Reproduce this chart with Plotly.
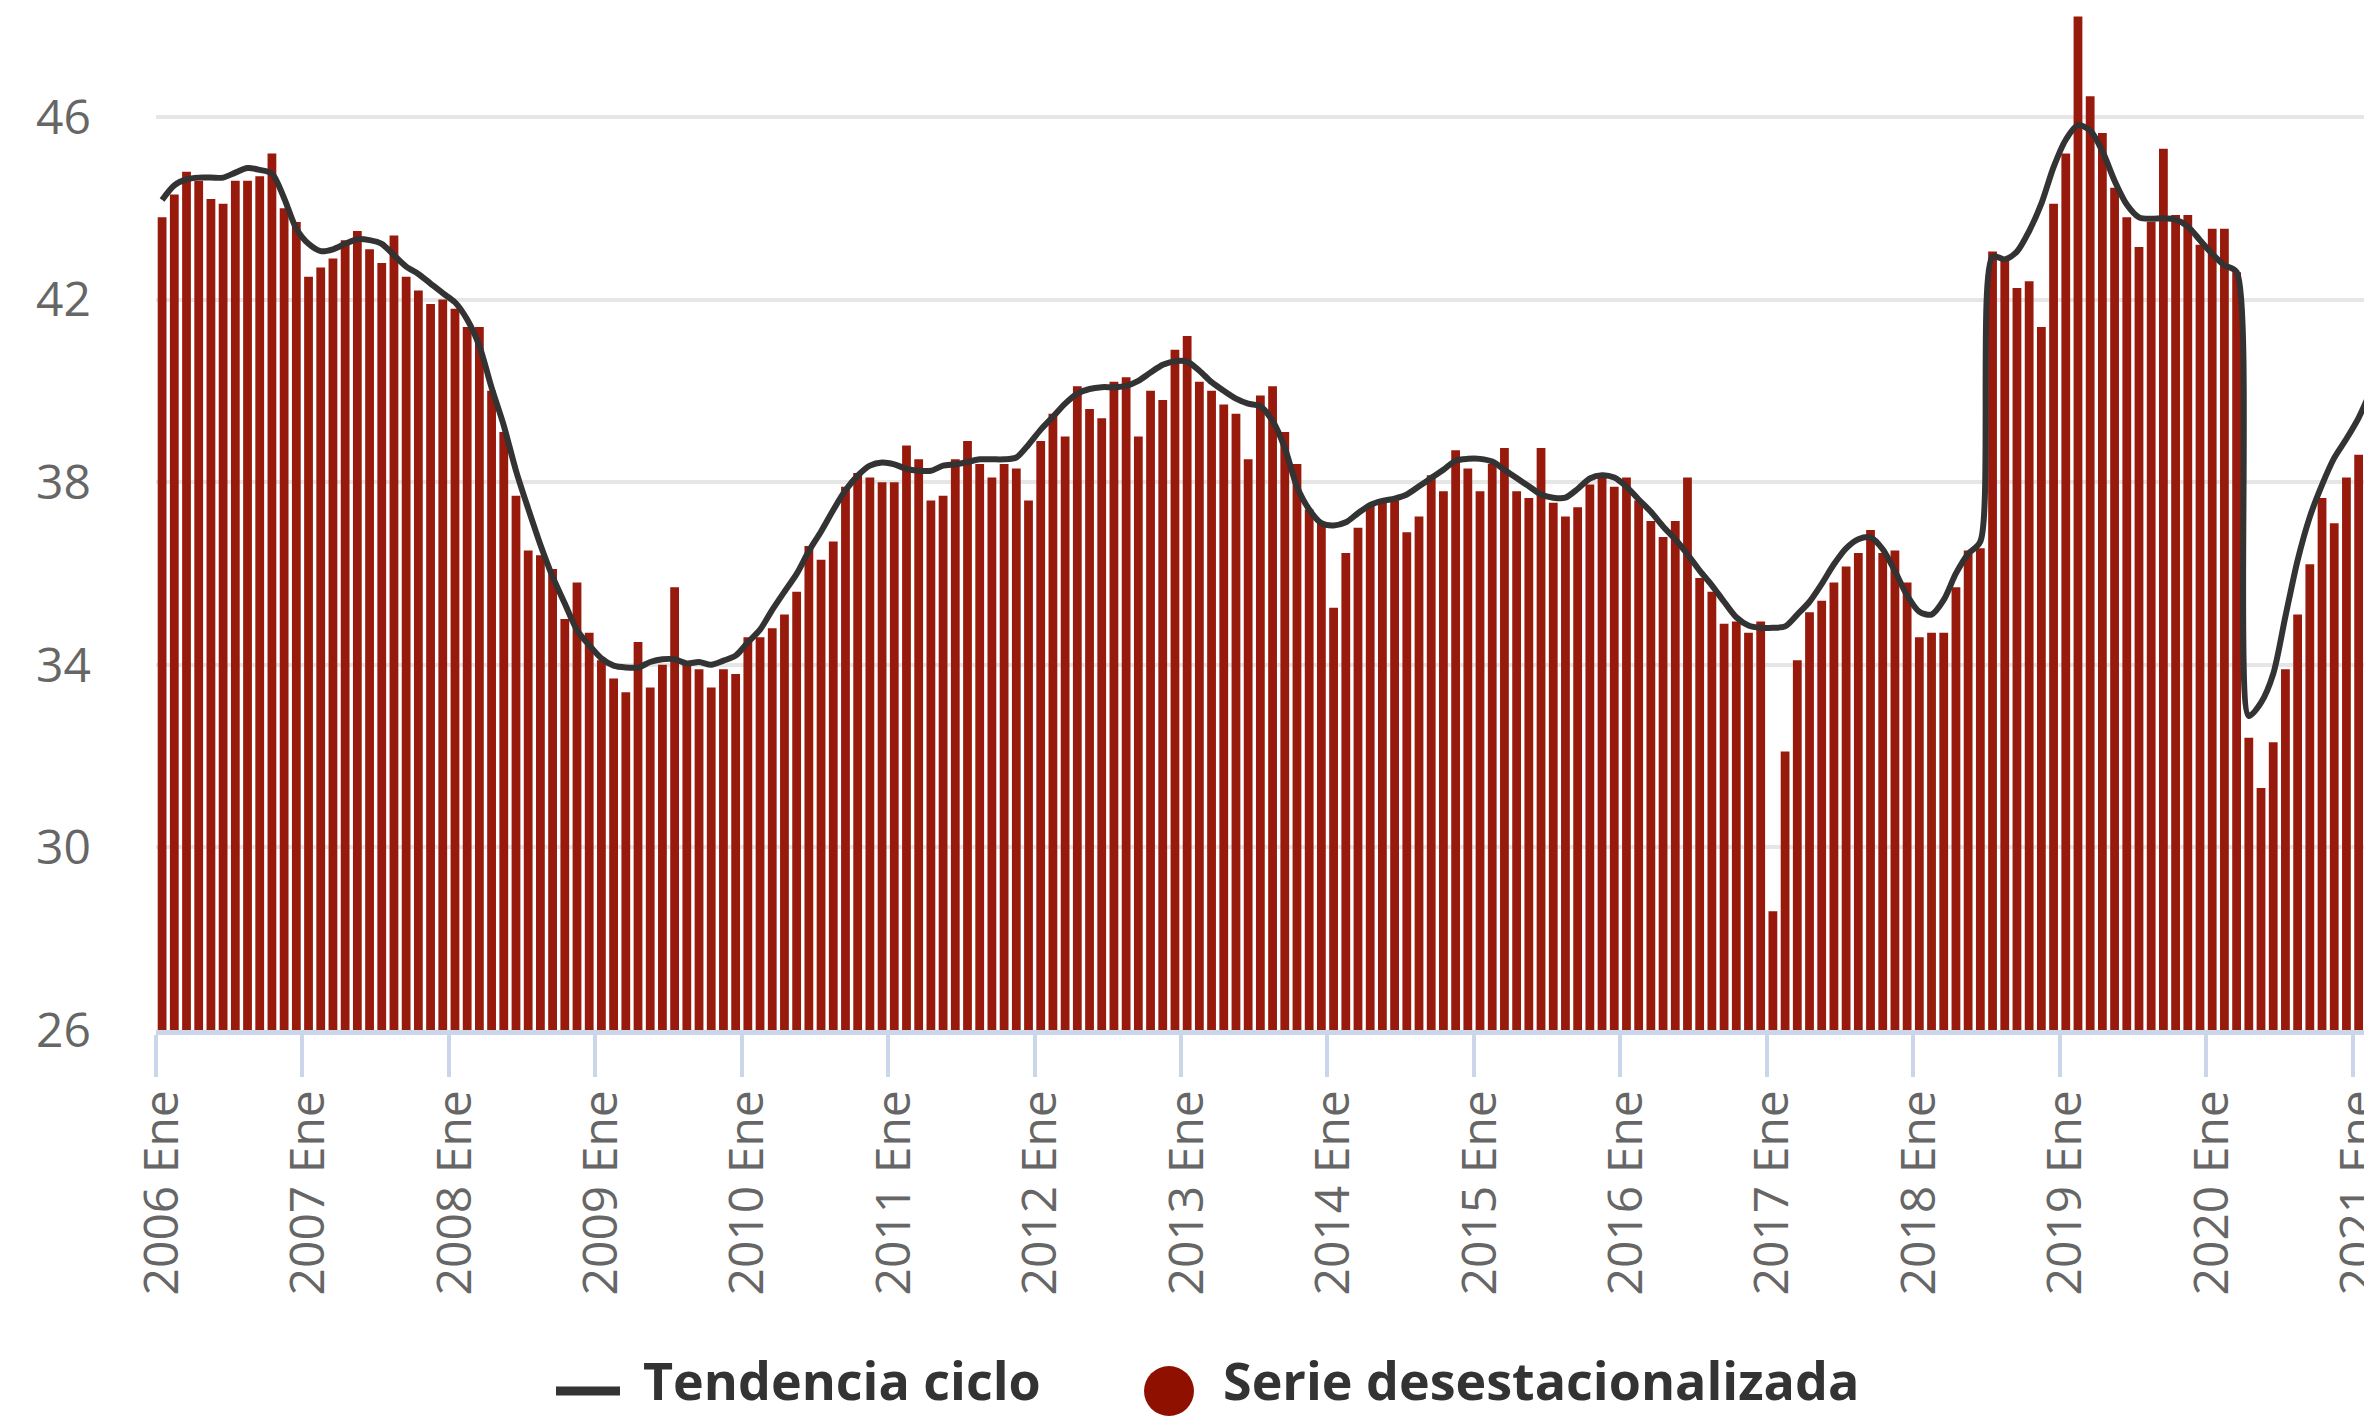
import plotly.graph_objects as go

# ---------------- data ----------------
years = list(range(2006, 2022))
months = ["Ene", "Feb", "Mar", "Abr", "May", "Jun", "Jul", "Ago", "Sep", "Oct", "Nov", "Dic"]

serie_desestacionalizada = [
    # 2006
    43.8, 44.3, 44.8, 44.6, 44.2, 44.1, 44.6, 44.6, 44.7, 45.2, 44.0, 43.7,
    # 2007
    42.5, 42.7, 42.9, 43.3, 43.5, 43.1, 42.8, 43.4, 42.5, 42.2, 41.9, 42.0,
    # 2008
    41.8, 41.4, 41.4, 40.0, 39.1, 37.7, 36.5, 36.4, 36.1, 35.0, 35.8, 34.7,
    # 2009
    34.1, 33.7, 33.4, 34.5, 33.5, 34.0, 35.7, 34.0, 33.9, 33.5, 33.9, 33.8,
    # 2010
    34.6, 34.6, 34.8, 35.1, 35.6, 36.6, 36.3, 36.7, 37.9, 38.2, 38.1, 38.0,
    # 2011
    38.0, 38.8, 38.5, 37.6, 37.7, 38.5, 38.9, 38.4, 38.1, 38.4, 38.3, 37.6,
    # 2012
    38.9, 39.5, 39.0, 40.1, 39.6, 39.4, 40.2, 40.3, 39.0, 40.0, 39.8, 40.9,
    # 2013
    41.2, 40.2, 40.0, 39.7, 39.5, 38.5, 39.9, 40.1, 39.1, 38.4, 37.4, 37.1,
    # 2014
    35.25, 36.45, 37.0, 37.5, 37.6, 37.6, 36.9, 37.25, 38.15, 37.8, 38.7, 38.3,
    # 2015
    37.8, 38.4, 38.75, 37.8, 37.65, 38.75, 37.55, 37.25, 37.45, 37.95, 38.1, 37.9,
    # 2016
    38.1, 37.6, 37.15, 36.8, 37.15, 38.1, 35.9, 35.6, 34.9, 34.95, 34.7, 34.95,
    # 2017
    28.6, 32.1, 34.1, 35.15, 35.4, 35.8, 36.15, 36.45, 36.95, 36.45, 36.5, 35.8,
    # 2018
    34.6, 34.7, 34.7, 35.7, 36.5, 36.55, 43.05, 42.85, 42.25, 42.4, 41.4, 44.1,
    # 2019
    45.2, 48.2, 46.45, 45.65, 44.45, 43.8, 43.15, 43.7, 45.3, 43.85, 43.85, 43.2,
    # 2020
    43.55, 43.55, 42.6, 32.4, 31.3, 32.3, 33.9, 35.1, 36.2, 37.65, 37.1, 38.1,
    # 2021
    38.6, 38.8,
]

tendencia_ciclo = [
    # 2006
    44.18, 44.5, 44.63, 44.67, 44.67, 44.67, 44.78, 44.88, 44.84, 44.76, 44.22, 43.55,
    # 2007
    43.22, 43.06, 43.1, 43.22, 43.32, 43.3, 43.22, 42.97, 42.72, 42.56, 42.35, 42.14,
    # 2008
    41.94, 41.56, 40.98, 40.07, 39.24, 38.25, 37.42, 36.63, 35.93, 35.34, 34.76, 34.43,
    # 2009
    34.14, 33.98, 33.94, 33.94, 34.06, 34.12, 34.12, 34.03, 34.06, 34.0, 34.09, 34.2,
    # 2010
    34.49, 34.77, 35.2, 35.6, 35.99, 36.49, 36.92, 37.39, 37.82, 38.14, 38.36, 38.43,
    # 2011
    38.39, 38.29, 38.25, 38.25, 38.36, 38.39, 38.44, 38.5, 38.5, 38.5, 38.54, 38.82,
    # 2012
    39.15, 39.43, 39.72, 39.94, 40.04, 40.08, 40.08, 40.11, 40.22, 40.4, 40.57, 40.65,
    # 2013
    40.64, 40.44, 40.19, 40.0, 39.83, 39.72, 39.66, 39.34, 38.75, 37.9, 37.4, 37.1,
    # 2014
    37.05, 37.12, 37.32, 37.5, 37.59, 37.64, 37.73, 37.91, 38.09, 38.27, 38.47, 38.51,
    # 2015
    38.51, 38.45, 38.27, 38.09, 37.91, 37.73, 37.66, 37.66, 37.85, 38.08, 38.15, 38.1,
    # 2016
    37.9, 37.62, 37.35, 37.03, 36.75, 36.42, 36.06, 35.74, 35.38, 35.04, 34.86, 34.81,
    # 2017
    34.81, 34.84, 35.1, 35.38, 35.77, 36.2, 36.55, 36.75, 36.79, 36.53, 36.05, 35.52,
    # 2018
    35.16, 35.1, 35.42, 36.0, 36.43, 36.7, 42.94, 42.88, 43.05, 43.5, 44.1, 44.9,
    # 2019
    45.5, 45.82, 45.7, 45.25, 44.6, 44.08, 43.8, 43.77, 43.78, 43.75, 43.6, 43.3,
    # 2020
    43.0, 42.75, 42.6, 32.88, 33.17, 33.8, 35.06, 36.29, 37.24, 37.94, 38.53, 38.95,
    # 2021
    39.41, 40.0,
]

y_ticks = [26, 30, 34, 38, 42, 46]

# category labels (one per month) and the January tick labels
categorias = [f"{y} {m}" for y in years for m in months][: len(serie_desestacionalizada)]
x_pos = list(range(len(categorias)))
etiquetas_x = [f"{y} {months[0]}" for y in years]
ticks_x = [categorias.index(t) for t in etiquetas_x]
ticks_borde = [t - 0.5 for t in ticks_x]

# ---------------- styling ----------------
# the page body adds an 8 px offset; figure coordinates below are page - 8
W, H = 2372, 1418
OFF = 8
ML, MR, MT, MB = 156 - OFF, 0, 0, H - (1030 - OFF)
PW, PH = W - ML - MR, H - MT - MB
PX_PER_MONTH = 12.203
PX_PER_UNIT = 45.655
X_RANGE = [-0.5, -0.5 + PW / PX_PER_MONTH]
Y_RANGE = [26, 26 + PH / PX_PER_UNIT]

BAR_COLOR = "#981a0c"
LEG_DOT = "#901000"
LINE_COLOR = "#333333"
FONT = "Open Sans"


def px(xpage):
    return (xpage - OFF - ML) / PW


def py(ypage):
    return (H - MB - (ypage - OFF)) / PH


fig = go.Figure()
fig.add_trace(go.Bar(
    x=x_pos, y=serie_desestacionalizada, name="Serie desestacionalizada",
    marker=dict(color=BAR_COLOR, line=dict(width=0)),
    hovertext=categorias, showlegend=False,
))
fig.add_trace(go.Scatter(
    x=x_pos, y=tendencia_ciclo, name="Tendencia ciclo", mode="lines",
    line=dict(color=LINE_COLOR, width=6, shape="spline", smoothing=0.8),
    hovertext=categorias, showlegend=False,
))

fig.update_layout(
    width=W, height=H,
    margin=dict(l=ML, r=MR, t=MT, b=MB, pad=0),
    paper_bgcolor="white", plot_bgcolor="white",
    bargap=0.28,
    showlegend=False,
    font=dict(family=FONT, color="#666666"),
    xaxis=dict(
        range=X_RANGE, showgrid=False, zeroline=False,
        tickmode="array", tickvals=ticks_x, ticktext=etiquetas_x,
        tickangle=-90, tickfont=dict(size=48, color="#666666", family=FONT),
        ticks="", ticklabelstandoff=36, ticklabeloverflow="allow",
        showline=True, linecolor="#ccd6eb", linewidth=5,
        minor=dict(tickmode="array", tickvals=ticks_borde, ticks="outside",
                   ticklen=42, tickwidth=4, tickcolor="#ccd6eb", showgrid=False),
        automargin=False, fixedrange=True,
    ),
    yaxis=dict(
        range=Y_RANGE, tickmode="array", tickvals=y_ticks,
        showgrid=True, gridcolor="#e6e6e6", gridwidth=4, zeroline=False,
        tickfont=dict(size=48, color="#666666", family=FONT),
        ticks="", ticklabelstandoff=64, showline=False,
        automargin=False, fixedrange=True,
    ),
)

# legend drawn below the plot (page coordinates converted to paper)
LEG_Y = 1391
fig.add_shape(type="line", xref="paper", yref="paper",
              x0=px(556), x1=px(620), y0=py(LEG_Y), y1=py(LEG_Y),
              line=dict(color=LINE_COLOR, width=9))
fig.add_shape(type="circle", xref="paper", yref="paper",
              x0=px(1144), x1=px(1194), y0=py(LEG_Y + 25), y1=py(LEG_Y - 25),
              fillcolor=LEG_DOT, line=dict(width=0))
fig.add_annotation(text="Tendencia ciclo", xref="paper", yref="paper",
                   x=px(642), y=py(1416), xanchor="left", yanchor="bottom",
                   showarrow=False, borderpad=0,
                   font=dict(family=FONT, size=52, color="#333333", weight="bold"))
fig.add_annotation(text="Serie desestacionalizada", xref="paper", yref="paper",
                   x=px(1222), y=py(1416), xanchor="left", yanchor="bottom",
                   showarrow=False, borderpad=0,
                   font=dict(family=FONT, size=52, color="#333333", weight="bold"))

fig.write_html("out.html")
